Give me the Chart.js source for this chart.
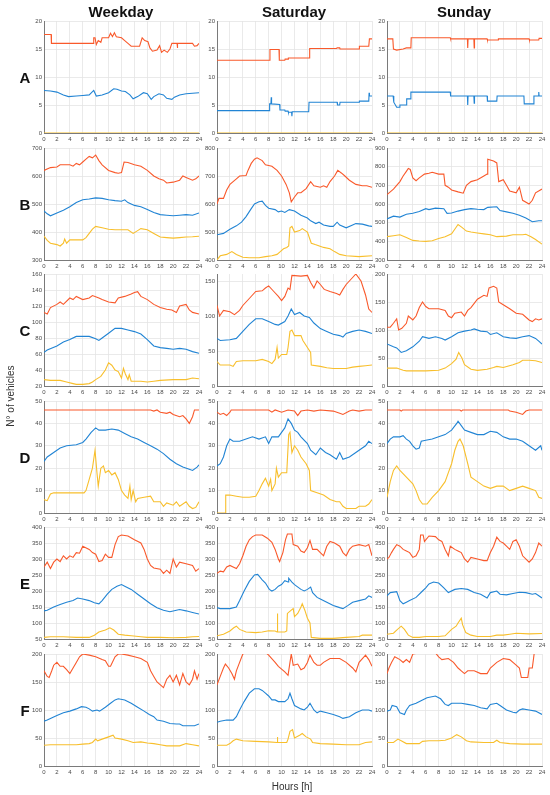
<!DOCTYPE html>
<html>
<head>
<meta charset="utf-8">
<script src="https://cdn.jsdelivr.net/npm/chart.js@4.4.0/dist/chart.umd.min.js"></script>
<style>
  body { margin: 0; background: #fff; font-family: 'Liberation Sans', Arial, sans-serif; }
  #page { position: relative; width: 550px; height: 795px; overflow: hidden; }
  .panel { position: absolute; }
  .lbl { position: absolute; transform: translate(-50%, -50%); white-space: nowrap; color: #111; }
  .title { font-weight: bold; font-size: 15px; }
  .row { font-weight: bold; font-size: 15px; }
  .axis { font-size: 10px; color: #333; }
</style>
</head>
<body>
<div id="page"></div>
<script>
// x ticks and series colours
const xTicks = [0, 2, 4, 6, 8, 10, 12, 14, 16, 18, 20, 22, 24];
const colTitles = ['Weekday', 'Saturday', 'Sunday'];
const rowNames = ['A', 'B', 'C', 'D', 'E', 'F'];
const lineColors = ['#F9592B', '#2184D4', '#F8BF2C'];

// y ticks per panel
const yTicksA = [0, 5, 10, 15, 20];
const yTicksBwk = [300, 400, 500, 600, 700];
const yTicksBsa = [400, 500, 600, 700, 800];
const yTicksBsu = [300, 400, 500, 600, 700, 800, 900];
const yTicksCwk = [20, 40, 60, 80, 100, 120, 140, 160];
const yTicksCsa = [0, 50, 100, 150];
const yTicksCsu = [0, 50, 100, 150, 200];
const yTicksD = [0, 10, 20, 30, 40, 50];
const yTicksE = [50, 100, 150, 200, 250, 300, 350, 400];
const yTicksF = [0, 50, 100, 150, 200];

// ---- row A ----
const wkA_red = [[0,17.6],[1.1,17.6],[1.15,16],[7.6,16],[7.7,17],[7.9,17],[8.1,15.8],[8.4,16.5],[8.8,16.2],[9,17],[10,17],[10.3,17.8],[10.6,17.2],[10.9,17.9],[11.2,17.2],[12,17],[12.5,16.5],[13,16],[13.5,15.5],[14.8,15.5],[15.2,17],[15.6,16.5],[16.1,16.3],[16.4,15.2],[16.8,14.6],[17.5,14.8],[17.9,15.6],[18.2,14.4],[18.6,14.8],[19.1,14.4],[19.5,15],[19.8,16],[20.6,16],[20.65,15.2],[20.7,16],[23,16],[23.3,15.5],[23.7,15.6],[24,16]];
const wkA_blue = [[0,7.6],[1,7.5],[2,7.3],[3,6.8],[3.8,6.5],[5,6.6],[6,6.7],[7,6.8],[7.7,7.6],[8.1,6.6],[9,6.8],[10,7.2],[10.8,7.9],[11.3,7.8],[12,7.5],[12.6,7.4],[13.3,6.8],[13.8,6.1],[14.5,6.5],[15.4,7.2],[16,7],[16.6,6],[17,6.5],[17.8,7],[18.5,6.8],[19,6.2],[19.8,6],[20.2,6.4],[21,6.8],[22,7],[23,7.1],[24,7.2]];
const wkA_yel = [[0,0],[24,0]];
const saA_red = [[0,13],[8.15,13],[8.2,14.9],[9.6,14.9],[9.65,13],[10.5,13],[10.55,13.2],[11,13.2],[11.05,13.4],[14.3,13.4],[14.35,15.1],[18.5,15.1],[18.6,15.2],[19,15.2],[19.05,15],[22,15],[22.05,15.5],[23.5,15.5],[23.6,16.8],[24,16.8]];
const saA_blue = [[0,4],[8.1,4],[8.15,5.2],[8.35,5.2],[8.4,6.4],[8.45,5.2],[9.7,5.1],[9.75,4.1],[10.5,4.1],[10.55,3.9],[11,3.9],[11.05,3.7],[11.55,3.7],[11.6,3],[11.65,3.8],[14.2,3.8],[14.25,5.5],[18.6,5.5],[18.65,5],[19,5],[19.05,5.5],[22,5.5],[22.05,5.7],[23.5,5.7],[23.55,7.2],[23.6,6.6],[24,6.6]];
const saA_yel = [[0,0],[24,0]];
const suA_red = [[0,16.8],[0.9,16.8],[1,15],[1.5,14.8],[2.5,15],[3,15.2],[3.7,15.2],[3.75,17],[9.8,17],[9.85,16.8],[12.45,16.8],[12.5,15.2],[12.55,16.8],[13.45,16.8],[13.5,15.2],[13.55,16.8],[15.5,16.8],[15.55,16.6],[17.2,16.6],[17.25,16.8],[22,16.8],[22.05,16.6],[23.5,16.6],[23.55,16.9],[24,16.9]];
const suA_blue = [[0,6.6],[0.95,6.6],[1.05,5.5],[1.5,4.6],[1.9,4.6],[2,5],[3,5],[3.05,6.1],[3.6,6.1],[3.7,7.3],[9.8,7.3],[9.85,6.6],[12.45,6.6],[12.5,5],[12.55,6.6],[13.45,6.6],[13.5,5.3],[13.55,6.6],[15.5,6.6],[15.55,5.7],[17,5.7],[17.05,6.6],[21.2,6.6],[21.25,5.2],[22.7,5.2],[22.75,6.6],[23.45,6.6],[23.5,7.3],[23.55,6.6],[24,6.6]];
const suA_yel = [[0,0],[24,0]];

// ---- row B ----
const wkB_red = [[0,620],[1,630],[2,632],[2.5,640],[4,640],[4.5,635],[5,645],[5.5,640],[6,650],[6.5,660],[7,670],[7.5,665],[8,675],[8.5,655],[9,640],[10,620],[11,612],[11.5,610],[12,612],[12.4,650],[13,648],[14,640],[15,635],[16,620],[17,600],[17.8,590],[18.5,585],[19,575],[20,578],[21,585],[21.5,600],[22,595],[23,585],[23.5,590],[24,600]];
const wkB_blue = [[0,475],[0.5,465],[1,458],[2,468],[3,478],[4,490],[5,505],[6,515],[7,518],[8,522],[9,520],[10,515],[11,512],[12,510],[12.5,515],[13,505],[14,495],[15,490],[16,480],[17,470],[18,462],[19,460],[20,458],[21,460],[22,462],[23,460],[24,468]];
const wkB_yel = [[0,385],[0.5,370],[1,360],[2,355],[2.5,350],[3,360],[3.2,375],[3.5,360],[4,372],[6,372],[6.5,380],[7,395],[7.5,410],[8,420],[9,415],[10,410],[11,408],[12,408],[13,408],[13.8,395],[14.5,405],[15,412],[16,408],[17,395],[18,382],[19,380],[20,378],[21,380],[22,382],[23,383],[24,385]];
const saB_red = [[0,600],[0.3,620],[1,620],[1.5,650],[2,670],[3,690],[3.5,700],[4.5,702],[4.8,720],[5.3,745],[5.8,760],[6.2,765],[7,755],[7.5,740],[8.5,735],[9.3,720],[10,700],[10.7,670],[11.2,640],[11.5,608],[12,625],[12.5,640],[13,640],[13.8,655],[14.5,680],[15,665],[16,660],[16.5,665],[17,660],[17.5,680],[18.2,700],[18.7,720],[19.3,710],[19.8,700],[20.5,685],[21.5,670],[22.5,665],[23.2,665],[24,660]];
const saB_blue = [[0,490],[1,495],[2,510],[3,522],[3.8,535],[4.5,555],[5.2,580],[5.8,600],[6.5,608],[7,610],[7.5,595],[8,585],[9,580],[9.5,572],[10,575],[10.5,570],[11.2,580],[12,575],[13,560],[14,550],[14.5,540],[15.3,530],[15.8,535],[16.5,525],[17.5,520],[18,520],[18.6,535],[19,525],[20,515],[21,525],[21.5,530],[22.5,528],[23.5,522],[24,520]];
const saB_yel = [[0,400],[0.5,415],[1.5,420],[2.3,430],[3,420],[4,410],[5,408],[6.5,408],[7.5,412],[8.5,415],[9.3,420],[9.8,430],[10.3,440],[10.8,445],[11.1,450],[11.3,515],[11.6,520],[12,500],[12.8,505],[13.2,512],[14,500],[14.6,460],[15.2,455],[16.5,445],[17.5,440],[18.2,430],[19,420],[20,415],[22,412],[24,415]];
const suB_red = [[0,650],[1,680],[2,720],[2.5,750],[3,775],[3.3,790],[3.6,785],[4,740],[4.5,725],[5,740],[5.8,760],[6.5,765],[7,770],[8,760],[8.8,760],[9,700],[9.5,690],[10,675],[11,665],[11.8,658],[12.3,700],[13,720],[14,730],[15,750],[15.5,760],[15.6,840],[16.5,830],[17,820],[17.3,720],[18,730],[18.5,700],[19,670],[20,660],[20.5,690],[21,620],[22,600],[22.5,620],[23,660],[24,680]];
const suB_blue = [[0,520],[1,535],[2,530],[3,545],[4,550],[5,560],[6,575],[6.5,570],[7.5,578],[8.8,575],[9.3,550],[10,552],[11,562],[12,570],[13,575],[14,572],[15,570],[15.6,582],[17,585],[17.5,565],[18.5,558],[19.5,550],[20.5,540],[21.5,525],[22.5,505],[23.5,510],[24,510]];
const suB_yel = [[0,425],[1,430],[2,435],[3,420],[4,405],[5,402],[6,400],[7,403],[8,415],[9,425],[10,440],[10.6,470],[11,490],[11.6,475],[12.3,455],[13,450],[14,445],[15,440],[16,435],[17,425],[18.5,428],[19.5,435],[21,435],[21.5,438],[22.3,425],[23,410],[24,385]];

// ---- row C ----
const wkC_red = [[0,112],[0.5,110],[1,118],[2,122],[2.5,125],[3,122],[4,130],[4.5,128],[5,132],[6,128],[7,130],[7.5,133],[8.5,130],[9,128],[10,125],[11,124],[11.5,130],[12.5,132],[13.5,135],[14,137],[14.5,138],[15,132],[16,128],[17,122],[18,118],[19,116],[19.8,115],[20.5,112],[21,120],[22,122],[22.5,115],[23,112],[24,110]];
const wkC_blue = [[0,62],[0.5,65],[2,70],[3,75],[4,78],[5,82],[6,82],[7,82],[8,79],[8.5,77],[9,80],[10,86],[11,92],[12,92],[13,90],[14,88],[15,85],[16,78],[17,70],[18,68],[19,67],[20,66],[21,67],[22,66],[23,63],[24,61]];
const wkC_yel = [[0,28],[1,27],[2.5,27],[3.5,25],[4.5,23],[5,22],[6,22],[7,23],[7.5,25],[8,28],[8.8,32],[9.5,40],[10,49],[10.5,46],[11,40],[11.5,38],[12,30],[12.3,42],[12.6,35],[13,28],[13.2,34],[13.5,26],[15,26],[16,25],[17,26],[18,27],[20,28],[22,28],[23,30],[24,29]];
const saC_red = [[0,115],[0.4,100],[1,108],[2,106],[2.7,102],[3.5,108],[4,115],[5,125],[6,135],[7,136],[7.5,140],[8,143],[8.8,135],[9.5,128],[10,122],[10.5,128],[11,140],[11.3,138],[11.6,158],[13,157],[14,158],[14.5,148],[15,140],[15.5,150],[16,145],[16.6,138],[17.5,135],[18.5,132],[19,130],[19.5,138],[20,145],[21,155],[21.5,160],[22.3,150],[23,130],[23.5,110],[24,105]];
const saC_blue = [[0,68],[0.5,65],[2,66],[3,68],[4,78],[5,88],[6,96],[7,96],[8,92],[9,88],[9.5,87],[10.5,92],[11,100],[11.5,110],[12,102],[12.8,105],[13.5,100],[14.3,98],[15,90],[16,82],[17,78],[18,74],[19,72],[19.5,70],[20,75],[21,78],[22,80],[23,78],[24,75]];
const saC_yel = [[0,35],[0.5,30],[2,30],[2.5,28],[3,35],[4,36],[6,36],[7,38],[8,35],[8.5,32],[9,38],[9.3,55],[9.5,40],[10,45],[10.8,45],[11,55],[11.3,78],[11.6,80],[12,72],[13,72],[13.3,65],[14,55],[14.5,48],[14.6,30],[16,28],[17,26],[18,25],[20,25],[21,27],[22,28],[23,29],[24,30]];
const suC_red = [[0,105],[0.5,105],[1,112],[1.5,120],[1.8,100],[2.3,103],[3,112],[3.3,125],[4,118],[4.5,125],[5,140],[5.5,150],[6,142],[6.5,138],[8,138],[9,135],[9.5,125],[10,122],[10.5,130],[11.5,132],[12,125],[12.5,135],[13,140],[14,155],[15,162],[15.5,160],[15.8,175],[16.5,178],[17,175],[17.3,150],[18,145],[19,138],[20,130],[21,128],[22,118],[22.5,115],[23,120],[23.5,118],[24,120]];
const suC_blue = [[0,75],[1,70],[1.5,68],[2.2,60],[3,63],[4,70],[5,80],[5.5,88],[6.5,85],[7.5,88],[8.5,85],[9,82],[10,88],[11,95],[12,98],[13,100],[13.5,102],[14.5,98],[15.5,97],[16,92],[17,95],[18,88],[19,86],[20,85],[21,88],[22,90],[23,85],[23.5,80],[24,75]];
const suC_yel = [[0,32],[1.5,32],[2.5,28],[3,27],[6,27],[8,28],[9,32],[10,40],[10.7,48],[11.1,60],[11.6,50],[12,38],[13,30],[14,28],[15.5,30],[16.5,33],[17,35],[18,33],[19.5,38],[20.5,42],[21,46],[22,46],[23,45],[24,42]];

// ---- row D ----
const wkD_red = [[0,46],[16.5,46],[17,45.5],[17.5,46],[18,45],[19,44.5],[19.5,45],[20,44],[21,43],[21.5,43.5],[22,42],[22.5,40],[23,43],[23.3,46],[24,46]];
const wkD_blue = [[0,23],[0.5,25],[1.5,27],[2.5,29],[3.5,30],[5,30.5],[6,31.5],[6.5,33],[7.3,36],[8,38],[8.5,37],[9.5,37],[10.5,37.5],[11.5,37],[12.5,35.5],[13.5,34],[14.5,33],[15.5,31.5],[16.5,30],[17.5,28.5],[18.5,26.5],[19.5,24],[20.5,22],[21.5,20.5],[22.5,19.5],[23,19],[23.7,20.5],[24,21.5]];
const wkD_yel = [[0,6],[0.5,5.5],[1,8.5],[1.5,9],[4,9],[6.2,9],[6.5,10],[7,15],[7.5,20],[7.9,28],[8.2,18],[8.4,12],[8.8,20],[9.2,21],[9.5,18],[10,19],[10.5,17],[11,18],[11.5,15],[12,10],[12.5,8],[13,6.5],[13.3,12],[13.5,6],[13.8,10],[14.2,5],[14.5,6.5],[15.5,7],[16.5,7.5],[17,5],[18,5],[18.5,3],[19,4.5],[20,3.5],[20.5,5],[21,3],[22,5],[22.5,3],[23,2],[23.5,2.5],[24,5]];
const saD_red = [[0,45],[0.5,44],[1,44.5],[1.5,43.5],[2,45],[2.2,46],[8,46],[8.5,45],[9,46],[10,45],[11,46],[12,45.5],[12.5,43.5],[13,45.5],[14,46],[15,45.5],[16,46],[18,45.5],[19,44.5],[19.5,44],[20.5,45.5],[21,46],[22,45.5],[23,46],[24,46]];
const saD_blue = [[0,21],[0.5,22],[1,25],[1.5,30],[2,33],[2.5,32],[3.5,32],[4.5,33],[5.5,34],[6.5,33],[7.5,34],[8,31],[8.5,34],[9.5,34],[10,36],[10.5,38],[11,42],[11.5,40],[12,37],[12.5,36],[13,34],[14,31],[14.5,28],[15.3,26],[16,29],[16.8,27],[17.5,26],[18.5,24],[19,27],[19.5,24],[20.5,25],[21.5,27],[22.5,29],[23,30],[23.5,32],[24,31]];
const saD_yel = [[0,0],[1.3,0],[1.35,8],[2,8],[3,7.5],[4,7],[5,7],[6,7.5],[6.5,10],[7,13],[7.5,15.5],[8,12],[8.3,15],[8.5,10],[9,13],[9.2,20],[9.5,16],[10,18],[10.8,18],[11.1,35],[11.3,36],[11.6,27],[12,30],[12.5,28],[13,25],[13.8,22],[14.3,19],[14.5,10],[15.5,9],[16.5,8],[17.5,6],[18.5,5],[19,5],[19.5,3],[20,2],[21.5,2],[22,3],[23,3],[23.5,4],[24,6]];
const suD_red = [[0,46],[2,46],[2.2,45.5],[2.4,46],[11.3,46],[11.5,45.5],[11.7,46],[18.8,46],[19,45.5],[20,45],[21,44],[21.5,45.5],[22,46],[24,46]];
const suD_blue = [[0,31],[0.5,33],[1,34],[2,34],[2.5,34.5],[3,33],[3.5,32],[4,30],[4.5,28.5],[5,29],[5.3,32],[6,32.5],[7,33],[8,34],[9,35],[10,37],[10.8,40],[11,41],[11.5,39],[12,37],[13,36],[14,35],[15,35],[16,36.5],[17,36],[18,34],[19,33],[20,33],[21,32],[22,30],[23,28],[23.8,30],[24,28]];
const suD_yel = [[0,7],[0.5,14],[1,19],[1.5,21],[2,19],[3,16],[4,13],[4.5,10],[5,6],[5.5,4],[6.2,4],[7,7],[8,10],[9,14],[9.5,18],[10,22],[10.5,28],[11,32],[11.3,33],[11.8,30],[12.5,22],[13,16],[14,14],[15,12],[16,11],[17,12],[18,12],[19,10],[20,11],[21,12],[22,11],[23,10],[23.5,7],[24,6.5]];

// ---- row E ----
const wkE_red = [[0,275],[0.5,290],[1,270],[1.5,290],[2,300],[2.5,292],[3,310],[3.5,300],[4,310],[4.5,305],[5,320],[5.5,318],[6,340],[7,330],[7.5,320],[8,315],[8.5,292],[9,295],[9.5,315],[10,305],[10.5,305],[11,345],[11.5,370],[12,375],[13,372],[14,360],[15,350],[15.5,330],[16,300],[16.5,280],[17,272],[18,268],[18.5,255],[19,265],[19.5,255],[20,300],[20.5,275],[21,290],[22,285],[23,280],[23.5,262],[24,270]];
const wkE_blue = [[0,138],[0.5,140],[1.5,150],[2.5,158],[3.5,165],[4.5,170],[5.2,178],[6,175],[7,170],[7.8,163],[8.5,160],[9,170],[9.8,190],[10.5,205],[11.3,215],[12,220],[12.5,215],[13.5,205],[14.5,190],[15.5,175],[16.5,160],[17.5,148],[18.5,140],[19.5,135],[20.5,140],[21,142],[22,138],[23,133],[24,128]];
const wkE_yel = [[0,55],[1,57],[3,57],[5,55],[7,55],[7.8,62],[8.5,72],[9.5,78],[10.2,85],[10.8,78],[11.5,65],[12.5,62],[13.5,60],[15,57],[16,55],[18,55],[20,54],[22,55],[23,57],[24,58]];
const saE_red = [[0,255],[0.5,262],[1,260],[1.5,275],[2,280],[2.5,275],[3,270],[3.5,285],[4,310],[4.5,340],[5,360],[5.5,370],[6,375],[7,375],[7.8,365],[8.5,352],[9,330],[9.5,300],[9.7,292],[10.2,320],[10.6,360],[10.9,378],[11.6,378],[11.8,345],[12.5,340],[13,325],[13.5,320],[14,335],[14.4,358],[14.8,330],[15.5,330],[16,320],[16.5,310],[17,340],[17.5,355],[18.2,350],[19,340],[19.5,320],[20,310],[20.5,330],[21,340],[22,345],[23,340],[23.5,345],[24,310]];
const saE_blue = [[0,148],[0.5,145],[2,145],[3,150],[3.5,170],[4.2,200],[5,230],[5.8,250],[6.3,252],[7,235],[7.5,225],[8.1,205],[8.5,200],[9,205],[9.5,215],[10,220],[10.5,232],[11,228],[11.1,240],[11.6,228],[12,220],[13,205],[13.5,200],[14,205],[14.5,212],[14.8,195],[15.5,180],[16,175],[17,165],[18,155],[19,148],[19.5,145],[20.3,155],[21,165],[22,170],[23,175],[23.5,185],[24,180]];
const saE_yel = [[0,60],[1,65],[2,75],[2.6,85],[3,90],[3.5,80],[4.5,72],[6,70],[7,72],[8,76],[9,75],[9.3,72],[9.35,130],[9.4,72],[10.5,72],[10.8,75],[10.9,130],[11.5,140],[11.8,145],[12,120],[12.5,130],[13,150],[13.2,160],[13.6,140],[14,115],[14.4,100],[14.5,100],[14.6,55],[16,52],[18,52],[20,55],[22,58],[22.5,62],[24,62]];
const suE_red = [[0,300],[0.3,305],[0.7,320],[1,330],[1.5,345],[2,340],[2.5,330],[3,325],[3.5,320],[4,305],[4.5,310],[5,330],[5.2,375],[5.6,375],[5.8,355],[6,360],[6.5,372],[7.5,370],[8,360],[8.5,355],[9,330],[9.5,310],[9.8,340],[10.5,330],[11,325],[11.5,320],[12,300],[12.5,290],[13,305],[14,300],[15,295],[15.5,295],[16,320],[16.5,340],[17,368],[17.5,355],[18,350],[18.5,340],[19,330],[19.5,355],[20,360],[20.5,340],[21,310],[22,290],[22.5,300],[23,320],[23.5,350],[24,340]];
const suE_blue = [[0,185],[0.5,195],[1.5,198],[2,170],[2.5,160],[3,165],[3.5,170],[4.5,180],[5.5,200],[6,210],[6.5,222],[7.2,228],[8,225],[8.8,210],[9.5,195],[10.5,205],[11.5,208],[12.5,205],[13.5,195],[14.5,190],[15.5,178],[16,195],[17,200],[17.5,190],[18.5,188],[19.5,192],[20.5,196],[21.5,195],[22.5,190],[23,192],[23.5,185],[24,178]];
const suE_yel = [[0,65],[1,68],[1.5,78],[2.2,90],[2.7,80],[3.3,62],[4,55],[5,55],[6,58],[8,58],[9,60],[10,80],[10.7,90],[11,100],[11.5,115],[11.7,95],[12.2,70],[13,62],[14,58],[16,58],[17,62],[18,62],[19,65],[20,68],[22,66],[24,67]];

// ---- row F ----
const wkF_red = [[0,170],[0.5,160],[0.8,158],[1.2,170],[1.5,180],[2,185],[2.5,178],[3,178],[3.5,172],[4,165],[4.5,175],[5,185],[5.5,195],[6,200],[7,198],[8,195],[9,190],[9.5,188],[10,178],[10.3,178],[11,195],[11.5,200],[12,200],[13,198],[14,195],[15,192],[16,185],[16.5,170],[17,160],[17.5,150],[18.5,140],[19,155],[19.5,162],[20,150],[20.5,162],[21,145],[21.5,165],[22,150],[22.5,145],[23,155],[23.3,170],[23.7,155],[24,165]];
const wkF_blue = [[0,80],[0.5,82],[1,85],[2,90],[3,95],[4,98],[5,102],[5.8,106],[6.5,105],[7,102],[7.5,98],[8.2,100],[8.6,98],[9.5,105],[10.3,112],[11,118],[11.5,120],[12.5,118],[13.5,112],[14.5,105],[15.5,98],[16.3,92],[17,88],[17.5,82],[18.5,80],[19.5,76],[20.5,75],[21,75],[21.5,72],[22.5,72],[23.3,72],[24,75]];
const wkF_yel = [[0,37],[1,38],[3,38],[5,38],[6,39],[7,40],[7.5,42],[8,48],[8.3,45],[9,48],[10,52],[10.7,55],[11,50],[12,48],[13,45],[13.8,42],[15,43],[16,41],[17,40],[18,38],[19,36],[21,36],[22,40],[23,38],[24,36]];
const saF_red = [[0,145],[0.5,160],[1,175],[1.3,182],[1.8,175],[2.3,165],[2.7,155],[3,170],[3.5,185],[4,200],[4.5,203],[7.5,203],[8,198],[9,185],[9.5,178],[10.5,168],[11,162],[11.3,185],[11.5,200],[11.8,180],[12.5,182],[13,172],[13.5,175],[14,185],[14.4,198],[15,185],[15.5,180],[16,180],[16.5,185],[17.5,192],[19,192],[20,185],[21,175],[21.5,168],[22,185],[23,198],[23.5,190],[24,178]];
const saF_blue = [[0,78],[0.5,80],[1.5,82],[2.5,82],[3,88],[3.5,100],[4.2,115],[5,130],[5.8,138],[6.5,138],[7,135],[7.5,130],[8,125],[8.5,118],[9,118],[9.5,115],[10.5,115],[11,120],[11.3,130],[11.6,120],[12,108],[12.5,105],[13,102],[13.5,100],[14,105],[14.4,112],[15,100],[15.5,95],[16,98],[17,95],[18,92],[19,88],[19.5,85],[20.5,88],[21.5,95],[22.5,100],[23.5,100],[24,98]];
const saF_yel = [[0,37],[1.5,37],[2,40],[2.5,45],[3,48],[4,45],[6,44],[8,43],[9.3,42],[9.35,52],[9.4,42],[10.8,42],[11,48],[11.3,62],[11.7,65],[12,50],[12.8,55],[13.2,58],[13.8,52],[14.5,48],[14.8,42],[16,40],[18,39],[20,38],[22,38],[23,42],[24,43]];
const suF_red = [[0,165],[0.3,175],[0.7,185],[1.2,195],[2,190],[2.5,185],[3,190],[3.5,185],[4,200],[5,202],[7.5,202],[8,195],[8.5,190],[9.5,192],[10.3,185],[11,175],[11.5,170],[12,165],[12.5,170],[13.5,170],[14.5,165],[15.5,165],[16,175],[17,185],[18,192],[19,190],[20,180],[20.5,175],[20.8,158],[21.8,158],[22,175],[22.5,175],[22.8,202],[24,202]];
const suF_blue = [[0,98],[0.5,100],[0.8,108],[1.5,106],[2,95],[2.7,92],[3,100],[3.5,108],[4.5,112],[5.5,118],[6.2,122],[7.5,125],[8.3,120],[9,110],[9.5,108],[10,112],[11.5,112],[12.5,110],[13.5,108],[14.5,104],[15.5,102],[16,110],[17,112],[17.5,108],[18.5,100],[19.5,96],[20,95],[20.5,100],[21,102],[22,100],[23,98],[24,92]];
const suF_yel = [[0,42],[1,42],[1.7,48],[2.2,45],[3,40],[5,40],[5.5,44],[6.5,45],[8,45],[9,46],[10,50],[10.8,56],[11.5,52],[12.3,45],[13,43],[15,42],[16.5,42],[17,46],[17.5,42],[19,40],[21,39],[24,39]];

// panel list: row, column, series, y ticks
const panels = [
  [0, 0, [wkA_red, wkA_blue, wkA_yel], yTicksA],
  [0, 1, [saA_red, saA_blue, saA_yel], yTicksA],
  [0, 2, [suA_red, suA_blue, suA_yel], yTicksA],
  [1, 0, [wkB_red, wkB_blue, wkB_yel], yTicksBwk],
  [1, 1, [saB_red, saB_blue, saB_yel], yTicksBsa],
  [1, 2, [suB_red, suB_blue, suB_yel], yTicksBsu],
  [2, 0, [wkC_red, wkC_blue, wkC_yel], yTicksCwk],
  [2, 1, [saC_red, saC_blue, saC_yel], yTicksCsa, 160],
  [2, 2, [suC_red, suC_blue, suC_yel], yTicksCsu],
  [3, 0, [wkD_red, wkD_blue, wkD_yel], yTicksD],
  [3, 1, [saD_red, saD_blue, saD_yel], yTicksD],
  [3, 2, [suD_red, suD_blue, suD_yel], yTicksD],
  [4, 0, [wkE_red, wkE_blue, wkE_yel], yTicksE],
  [4, 1, [saE_red, saE_blue, saE_yel], yTicksE],
  [4, 2, [suE_red, suE_blue, suE_yel], yTicksE],
  [5, 0, [wkF_red, wkF_blue, wkF_yel], yTicksF],
  [5, 1, [saF_red, saF_blue, saF_yel], yTicksF],
  [5, 2, [suF_red, suF_blue, suF_yel], yTicksF]
];

// layout of the grid
const rowTops = [21, 147.5, 274, 400.5, 527, 654];
const colLefts = [43.5, 216.5, 386.5];
const plotW = 155, plotH = 112;
const padL = 24, padT = 6, padR = 8, padB = 11;

const page = document.getElementById('page');

function addLabel(text, cls, x, y, rotate) {
    const el = document.createElement('div');
    el.className = 'lbl ' + cls;
    el.textContent = text;
    el.style.left = x + 'px';
    el.style.top = y + 'px';
    if (rotate) el.style.transform = 'translate(-50%, -50%) rotate(-90deg)';
    page.appendChild(el);
}

const tickFont = { family: "'Liberation Sans', Arial, sans-serif", size: 6 };

panels.forEach(function(p) {
    const row = p[0], col = p[1], series = p[2], yTicks = p[3];
    const yMax = p[4] !== undefined ? p[4] : yTicks[yTicks.length - 1];

    const canvas = document.createElement('canvas');
    canvas.className = 'panel';
    canvas.width = plotW + padL + padR;
    canvas.height = plotH + padT + padB;
    canvas.style.left = (colLefts[col] - padL) + 'px';
    canvas.style.top = (rowTops[row] - padT) + 'px';
    page.appendChild(canvas);

    new Chart(canvas, {
        type: 'line',
        data: {
            datasets: series.map(function(s, i) {
                return {
                    data: s,
                    borderColor: lineColors[i],
                    borderWidth: 1.1,
                    pointRadius: 0,
                    tension: 0,
                    fill: false
                };
            })
        },
        options: {
            responsive: false,
            animation: false,
            events: [],
            layout: { padding: { left: 2, top: padT, right: padR, bottom: 0 } },
            plugins: { legend: { display: false }, tooltip: { enabled: false } },
            scales: {
                x: {
                    type: 'linear',
                    min: 0,
                    max: 24,
                    afterBuildTicks: function(axis) { axis.ticks = xTicks.map(v => ({ value: v })); },
                    afterFit: function(axis) { axis.height = padB; },
                    grid: { color: '#e4e4e4', lineWidth: 0.8, drawTicks: false },
                    border: { display: true, color: '#7a7a7a', width: 1 },
                    ticks: { font: tickFont, color: '#4a4a4a', padding: 3, autoSkip: false, maxRotation: 0 }
                },
                y: {
                    min: yTicks[0],
                    max: yMax,
                    afterBuildTicks: function(axis) { axis.ticks = yTicks.map(v => ({ value: v })); },
                    afterFit: function(axis) { axis.width = padL - 2; },
                    grid: { color: '#e4e4e4', lineWidth: 0.8, drawTicks: false },
                    border: { display: true, color: '#7a7a7a', width: 1 },
                    ticks: { font: tickFont, color: '#4a4a4a', padding: 2 }
                }
            }
        }
    });
});

// titles and axis labels
colTitles.forEach(function(t, c) {
    addLabel(t, 'title', colLefts[c] + plotW / 2, 11);
});
rowNames.forEach(function(r, i) {
    addLabel(r, 'row', 25, rowTops[i] + plotH / 2);
});
addLabel('N° of vehicles', 'axis', 10, 396, true);
addLabel('Hours [h]', 'axis', 292, 786);
</script>
</body>
</html>
